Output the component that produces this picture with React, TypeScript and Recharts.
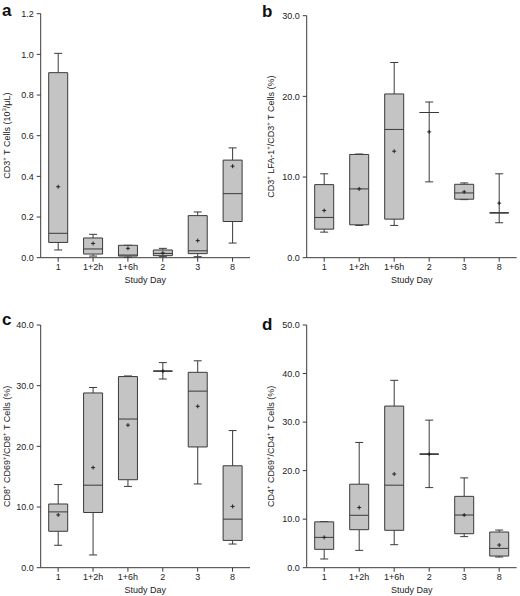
import { BarChart, Bar, XAxis, YAxis } from 'recharts'

const days = ['1', '1+2h', '1+6h', '2', '3', '8']

// a: CD3+ T cells (10^3/uL)
const aLow = [0.038, 0.008, 0.002, 0.005, 0.005, 0.072]
const aQ1 = [0.075, 0.018, 0.008, 0.01, 0.02, 0.178]
const aMedian = [0.12, 0.043, 0.013, 0.021, 0.034, 0.315]
const aQ3 = [0.91, 0.097, 0.061, 0.038, 0.207, 0.48]
const aHigh = [1.005, 0.115, 0.061, 0.046, 0.225, 0.54]
const aMean = [0.349, 0.07, 0.046, 0.023, 0.084, 0.45]
const aTicks = [0, 0.2, 0.4, 0.6, 0.8, 1.0, 1.2]

// b: CD3+ LFA-1+ / CD3+ (%)
const bLow = [3.17, 4.0, 4.0, 9.4, 7.2, 4.33]
const bQ1 = [3.54, 4.08, 4.78, 18.0, 7.25, 5.56]
const bMedian = [4.99, 8.53, 15.9, 18.0, 8.03, 5.56]
const bQ3 = [9.06, 12.8, 20.3, 18.0, 9.1, 5.56]
const bHigh = [10.4, 12.85, 24.2, 19.3, 9.27, 10.4]
const bMean = [5.85, 8.53, 13.2, 15.6, 8.16, 6.76]
const bTicks = [0, 10, 20, 30]

// c: CD8+ CD69+ / CD8+ (%)
const cLow = [3.7, 2.1, 13.4, 31.1, 13.8, 3.9]
const cQ1 = [6.0, 9.1, 14.5, 32.4, 19.9, 4.5]
const cMedian = [9.2, 13.6, 24.5, 32.4, 29.1, 8.0]
const cQ3 = [10.5, 28.8, 31.5, 32.4, 32.2, 16.8]
const cHigh = [13.7, 29.7, 31.6, 33.8, 34.1, 22.6]
const cMean = [8.7, 16.5, 23.5, 32.4, 26.6, 10.1]
const cTicks = [0, 10, 20, 30, 40]

// d: CD4+ CD69+ / CD4+ (%)
const dLow = [1.79, 3.57, 4.74, 16.5, 6.4, 2.2]
const dQ1 = [3.78, 7.83, 7.7, 23.4, 7.0, 2.4]
const dMedian = [6.25, 10.8, 17.0, 23.4, 10.85, 3.98]
const dQ3 = [9.45, 17.2, 33.3, 23.4, 14.7, 7.35]
const dHigh = [9.5, 25.8, 38.6, 30.4, 18.5, 7.76]
const dMean = [6.25, 12.4, 19.3, 23.4, 10.85, 4.67]
const dTicks = [0, 10, 20, 30, 40, 50]

const FONT = '"Liberation Sans", Arial, sans-serif'
const INK = '#3a3a3a'
const BOX_FILL = '#c4c4c4'

function buildRows(low: number[], q1: number[], median: number[], q3: number[], high: number[], mean: number[]) {
  return days.map((day, i) => ({
    day,
    range: [low[i], high[i]],
    low: low[i],
    q1: q1[i],
    median: median[i],
    q3: q3[i],
    high: high[i],
    mean: mean[i],
  }))
}

function BoxPlotShape(props: any) {
  const { x, y, width, height, payload } = props
  const { low, q1, median, q3, high, mean } = payload
  // the bar spans low..high, so interpolate the other stats inside it
  const top = Math.min(y, y + height)
  const bottom = Math.max(y, y + height)
  const span = high - low || 1
  const py = (v: number) => top + ((high - v) / span) * (bottom - top)
  const cx = x + width / 2
  const cap = 4
  const yq1 = py(q1)
  const yq3 = py(q3)
  const ym = py(mean)
  return (
    <g>
      <line x1={cx} x2={cx} y1={py(high)} y2={yq3} stroke={INK} />
      <line x1={cx} x2={cx} y1={yq1} y2={py(low)} stroke={INK} />
      <line x1={cx - cap} x2={cx + cap} y1={py(high)} y2={py(high)} stroke={INK} />
      <line x1={cx - cap} x2={cx + cap} y1={py(low)} y2={py(low)} stroke={INK} />
      <path d={`M${x},${yq3} H${x + width} V${yq1} H${x} Z`} fill={BOX_FILL} stroke={INK} />
      <line x1={x} x2={x + width} y1={py(median)} y2={py(median)} stroke={INK} />
      <line x1={cx - 2} x2={cx + 2} y1={ym} y2={ym} stroke="#222" />
      <line x1={cx} x2={cx} y1={ym - 2} y2={ym + 2} stroke="#222" />
    </g>
  )
}

type PanelProps = {
  letter: string
  left: number
  top: number
  width: number
  height: number
  marginTop: number
  marginRight: number
  yAxisWidth: number
  xAxisHeight: number
  labelX: number
  letterBaseline: number
  data: any[]
  ticks: number[]
  yLabel: React.ReactNode
}

function Panel(p: PanelProps) {
  const max = p.ticks[p.ticks.length - 1]
  const plotTop = p.marginTop
  const plotBottom = p.height - p.xAxisHeight
  const plotLeft = p.yAxisWidth
  const plotRight = p.width - p.marginRight
  const midY = (plotTop + plotBottom) / 2
  return (
    <div style={{ position: 'absolute', left: p.left, top: p.top, width: p.width, height: p.height }}>
      <BarChart
        width={p.width}
        height={p.height}
        data={p.data}
        margin={{ top: p.marginTop, right: p.marginRight, bottom: 0, left: 0 }}
      >
        <XAxis
          dataKey="day"
          height={p.xAxisHeight}
          stroke={INK}
          tickSize={4}
          tickMargin={2}
          tick={{ fontSize: 9, fill: '#222' }}
          interval={0}
        />
        <YAxis
          width={p.yAxisWidth}
          domain={[0, max]}
          ticks={p.ticks}
          stroke={INK}
          tickSize={4}
          tickMargin={3}
          tick={{ fontSize: 9, fill: '#222' }}
          tickFormatter={(v: number) => v.toFixed(1)}
        />
        <Bar dataKey="range" barSize={19} shape={BoxPlotShape} isAnimationActive={false} />
      </BarChart>
      <svg
        width={p.width}
        height={p.height}
        style={{ position: 'absolute', left: 0, top: 0, pointerEvents: 'none' }}
        fontFamily={FONT}
      >
        <text x={2} y={p.letterBaseline} fontSize={17} fontWeight="bold" fill="#111">
          {p.letter}
        </text>
        <text x={(plotLeft + plotRight) / 2} y={plotBottom + 25} textAnchor="middle" fontSize={9} fill="#222">
          Study Day
        </text>
        <text
          x={p.labelX}
          y={midY}
          transform={`rotate(-90, ${p.labelX}, ${midY})`}
          textAnchor="middle"
          dominantBaseline="central"
          fontSize={9}
          fill="#222"
        >
          {p.yLabel}
        </text>
      </svg>
    </div>
  )
}

const sup = (s: string) => (
  <tspan baselineShift="super" fontSize={6}>
    {s}
  </tspan>
)

export default function App() {
  return (
    <div style={{ position: 'absolute', left: 0, top: 0, width: 520, height: 596, background: '#fff', fontFamily: FONT }}>
      <Panel
        letter="a"
        left={0}
        top={0}
        width={260}
        height={290}
        marginTop={13.7}
        marginRight={10}
        yAxisWidth={40.7}
        xAxisHeight={32.3}
        labelX={7}
        letterBaseline={15.5}
        data={buildRows(aLow, aQ1, aMedian, aQ3, aHigh, aMean)}
        ticks={aTicks}
        yLabel={<>CD3{sup('+')} T Cells (10{sup('3')}/μL)</>}
      />
      <Panel
        letter="b"
        left={260}
        top={0}
        width={260}
        height={290}
        marginTop={15.7}
        marginRight={3.3}
        yAxisWidth={46.7}
        xAxisHeight={32.3}
        labelX={11}
        letterBaseline={16.7}
        data={buildRows(bLow, bQ1, bMedian, bQ3, bHigh, bMean)}
        ticks={bTicks}
        yLabel={<>CD3{sup('+')} LFA-1{sup('+')}/CD3{sup('+')} T Cells (%)</>}
      />
      <Panel
        letter="c"
        left={0}
        top={300}
        width={260}
        height={296}
        marginTop={25}
        marginRight={10}
        yAxisWidth={40.7}
        xAxisHeight={28.3}
        labelX={7}
        letterBaseline={25}
        data={buildRows(cLow, cQ1, cMedian, cQ3, cHigh, cMean)}
        ticks={cTicks}
        yLabel={<>CD8{sup('+')} CD69{sup('+')}/CD8{sup('+')} T Cells (%)</>}
      />
      <Panel
        letter="d"
        left={260}
        top={300}
        width={260}
        height={296}
        marginTop={25}
        marginRight={3.3}
        yAxisWidth={46.7}
        xAxisHeight={28.3}
        labelX={11}
        letterBaseline={30}
        data={buildRows(dLow, dQ1, dMedian, dQ3, dHigh, dMean)}
        ticks={dTicks}
        yLabel={<>CD4{sup('+')} CD69{sup('+')}/CD4{sup('+')} T Cells (%)</>}
      />
    </div>
  )
}
